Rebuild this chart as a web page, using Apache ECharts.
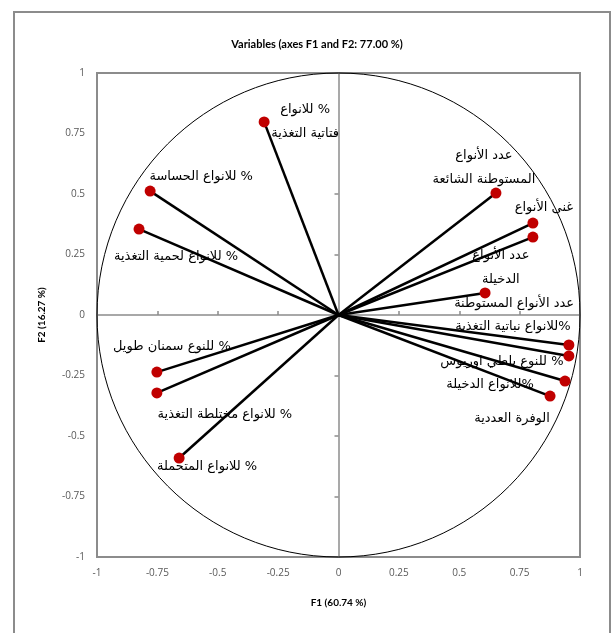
<!DOCTYPE html>
<html>
<head>
<meta charset="utf-8">
<script src="https://cdn.jsdelivr.net/npm/echarts@6/dist/echarts.min.js"></script>
<style>
html,body{margin:0;padding:0;background:#fff;}
#chart{width:611px;height:633px;}
</style>
</head>
<body>
<div id="chart"></div>
<script>
// Variable names (line breaks mark where the reference wraps a label)
var variableNames = [
  "% للانواع\nفتاتية التغذية",
  "% للانواع الحساسة",
  "% للانواع لحمية التغذية",
  "% للنوع سمنان طويل",
  "% للانواع مختلطة التغذية",
  "% للانواع المتحملة",
  "عدد الأنواع\nالمستوطنة الشائعة",
  "غنى الأنواع",
  "عدد الأنواع\nالدخيلة",
  "عدد الأنواع المستوطنة",
  "%للانواع نباتية التغذية",
  "% للنوع بلطي اوريوس",
  "%للانواع الدخيلة",
  "الوفرة العددية"
];
// Correlations with F1 and F2
var f1Values = [-0.308, -0.780, -0.826, -0.752, -0.752, -0.660, 0.652, 0.805, 0.805, 0.607, 0.954, 0.954, 0.938, 0.876];
var f2Values = [0.798, 0.512, 0.355, -0.236, -0.322, -0.591, 0.504, 0.380, 0.322, 0.091, -0.124, -0.169, -0.273, -0.335];
var tickValues = [-1, -0.75, -0.5, -0.25, 0, 0.25, 0.5, 0.75, 1];

// Label placement (pixel offsets from each point) - layout only
var labelOffsets = [[41,0],[51,-14],[37,28],[15,-25],[68,22],[28,9],[-12,-25],[11,-15],[-32,31],[29,11],[-56,-18],[-67,6],[-75,4],[-38,23]];

function rtl(s){
  return s.split("\n").map(function(l){return "\u202B" + l + "\u202C";}).join("\n");
}

var points = f1Values.map(function(x,i){ return [x, f2Values[i]]; });
var scatterData = points.map(function(p,i){
  return {
    value: p,
    name: variableNames[i],
    label: { offset: labelOffsets[i] }
  };
});

var chart = echarts.init(document.getElementById('chart'), null, {renderer:'canvas'});
var axisLabelStyle = { color:'#595959', fontSize:10, fontFamily:'Open Sans, sans-serif' };
var option = {
  animation:false,
  backgroundColor:'#fff',
  title:{
    text:'Variables (axes F1 and F2: 77.00 %)',
    left:312, top:34, textAlign:'center',
    textStyle:{ fontSize:11, fontWeight:'bold', color:'#000', fontFamily:'Lato, sans-serif' }
  },
  graphic:[{
    type:'rect', shape:{x:14,y:12,width:596,height:650},
    style:{ fill:'none', stroke:'#8c8c8c', lineWidth:2 }, silent:true, z:-1
  }],
  grid:{ left:97, top:73, width:483, height:484, show:true, borderColor:'#8c8c8c', borderWidth:2, backgroundColor:'transparent' },
  xAxis:[{
    type:'value', min:-1, max:1, interval:0.25, position:'bottom',
    axisLine:{ show:false, onZero:false }, axisTick:{show:false}, splitLine:{show:false},
    axisLabel: Object.assign({ margin:11, formatter:function(v){ return String(v); } }, axisLabelStyle),
    name:'F1 (60.74 %)', nameLocation:'middle', nameGap:41,
    nameTextStyle:{ fontSize:10, fontWeight:'bold', color:'#000', fontFamily:'Lato, sans-serif' }
  },{
    type:'value', min:-1, max:1, interval:0.25, position:'bottom',
    axisLine:{ show:true, onZero:true, lineStyle:{ color:'#8c8c8c', width:1.5 } },
    axisTick:{ show:true, inside:true, length:4, lineStyle:{ color:'#8c8c8c', width:1.5 } },
    axisLabel:{show:false}, splitLine:{show:false}
  }],
  yAxis:[{
    type:'value', min:-1, max:1, interval:0.25, position:'left',
    axisLine:{ show:false, onZero:false }, axisTick:{show:false}, splitLine:{show:false},
    axisLabel: Object.assign({ margin:12, formatter:function(v){ return String(v); } }, axisLabelStyle),
    name:'F2 (16.27 %)', nameLocation:'middle', nameGap:50, nameRotate:90,
    nameTextStyle:{ fontSize:10, fontWeight:'bold', color:'#000', fontFamily:'Lato, sans-serif' }
  },{
    type:'value', min:-1, max:1, interval:0.25, position:'left',
    axisLine:{ show:true, onZero:true, lineStyle:{ color:'#8c8c8c', width:1.5 } },
    axisTick:{ show:true, inside:false, length:4, lineStyle:{ color:'#8c8c8c', width:1.5 } },
    axisLabel:{show:false}, splitLine:{show:false}
  }],
  series:[{
    type:'custom', xAxisIndex:0, yAxisIndex:0, silent:true, z:1,
    data:[[0,0]],
    renderItem:function(params, api){
      var c = api.coord([0,0]), e = api.coord([1,0]), t = api.coord([0,1]);
      return { type:'ellipse', shape:{ cx:c[0], cy:c[1], rx:e[0]-c[0], ry:c[1]-t[1] },
        style:{ fill:'transparent', stroke:'#000', lineWidth:1 } };
    }
  },{
    type:'custom', xAxisIndex:0, yAxisIndex:0, silent:true, z:2,
    data: points,
    renderItem:function(params, api){
      var o = api.coord([0,0]), p = api.coord([api.value(0), api.value(1)]);
      return { type:'line', shape:{ x1:o[0], y1:o[1], x2:p[0], y2:p[1] },
        style:{ stroke:'#000', lineWidth:2.5 } };
    }
  },{
    type:'scatter', xAxisIndex:0, yAxisIndex:0, z:3,
    symbol:'circle', symbolSize:11,
    itemStyle:{ color:'#c00000', opacity:1 },
    data: scatterData,
    label:{
      show:true, position:'inside', align:'center', verticalAlign:'middle',
      fontSize:13, lineHeight:24, color:'#000', fontFamily:'DejaVu Sans, sans-serif',
      formatter:function(p){ return rtl(p.name); }
    }
  }]
};
chart.setOption(option);
</script>
</body>
</html>
